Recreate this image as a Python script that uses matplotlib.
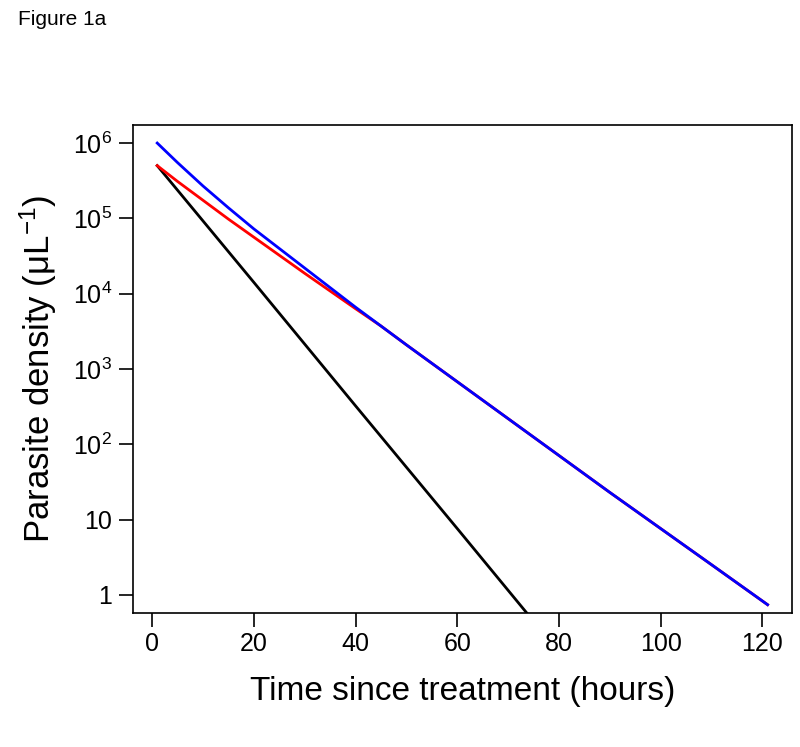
import numpy as np
import matplotlib
matplotlib.use("Agg")
import matplotlib.pyplot as plt
from matplotlib.ticker import FixedLocator, FixedFormatter, NullLocator

plt.rcParams['font.family'] = ['Liberation Sans', 'DejaVu Sans']
plt.rcParams['mathtext.fontset'] = 'custom'
plt.rcParams['mathtext.rm'] = 'Liberation Sans'
plt.rcParams['mathtext.it'] = 'Liberation Sans:italic'
plt.rcParams['mathtext.default'] = 'regular'

# values (time in hours, log10 density per uL)
blue_t = [1, 5, 10, 15, 20, 30, 40, 50, 60, 70, 80, 90, 100, 110, 121]
blue_log = [6.00, 5.74, 5.43, 5.14, 4.86, 4.34, 3.82, 3.32, 2.83, 2.34, 1.85, 1.36, 0.88, 0.40, -0.13]

red_t = [1, 5, 10, 15, 20, 30, 40, 45, 50, 60, 70, 80, 90, 100, 110, 121]
red_log = [5.70, 5.49, 5.24, 4.99, 4.75, 4.27, 3.80, 3.57, 3.32, 2.83, 2.34, 1.85, 1.36, 0.88, 0.40, -0.13]

black_t = [1, 20, 40, 60, 80]
black_log = [5.70, 4.15, 2.51, 0.88, -0.76]

xticks = [0, 20, 40, 60, 80, 100, 120]
yticks = [1, 10, 1e2, 1e3, 1e4, 1e5, 1e6]
ylabels = ['1', '10', '$10^2$', '$10^3$', '$10^4$', '$10^5$', '$10^6$']

fig = plt.figure(figsize=(8, 7.47), dpi=100)
ax = fig.add_axes([0.166, 0.1794, 0.824, 0.6533])

ax.plot(black_t, 10 ** np.array(black_log), color='black', lw=2)
ax.plot(red_t, 10 ** np.array(red_log), color='#ff0000', lw=2)
ax.plot(blue_t, 10 ** np.array(blue_log), color='#0000ff', lw=2)

ax.set_yscale('log')
ax.set_xlim(-3.8, 125.8)
ax.set_ylim(10 ** -0.24, 10 ** 6.24)

ax.xaxis.set_major_locator(FixedLocator(xticks))
ax.yaxis.set_major_locator(FixedLocator(yticks))
ax.yaxis.set_major_formatter(FixedFormatter(ylabels))
ax.yaxis.set_minor_locator(NullLocator())

ax.tick_params(axis='both', direction='out', length=10, width=1.2, labelsize=18)
ax.tick_params(axis='x', pad=4)
ax.tick_params(axis='y', pad=5)
for s in ax.spines.values():
    s.set_linewidth(1.2)

ax.set_xlabel('Time since treatment (hours)', fontsize=24, labelpad=14)
ax.set_ylabel('Parasite density (μL$^{-1}$)', fontsize=25, labelpad=10)

fig.text(0.022, 0.987, 'Figure 1a', fontsize=15, va='top', ha='left')

fig.savefig('out.png', dpi=100)
